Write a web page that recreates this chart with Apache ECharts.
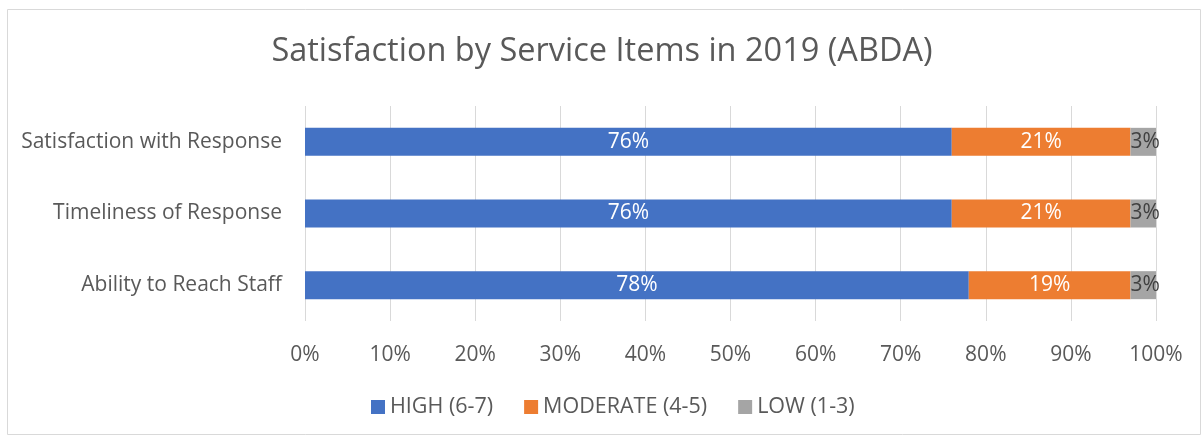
<!DOCTYPE html>
<html><head><meta charset="utf-8">
<script src="https://cdn.jsdelivr.net/npm/echarts@6/dist/echarts.min.js"></script>
<style>html,body{margin:0;padding:0;background:#fff}#c{width:1204px;height:439px}</style>
</head><body><div id="c"></div>
<script>
const categories = ['Satisfaction with Response', 'Timeliness of Response', 'Ability to Reach Staff'];
const seriesNames = ['HIGH (6-7)', 'MODERATE (4-5)', 'LOW (1-3)'];
const highValues = [76, 76, 78];
const moderateValues = [21, 21, 19];
const lowValues = [3, 3, 3];
const xTicks = [0, 10, 20, 30, 40, 50, 60, 70, 80, 90, 100];

const FONT = 'Open Sans';
const colors = ['#4472C4', '#ED7D31', '#A5A5A5'];
const labelColors = ['#ffffff', '#ffffff', '#404040'];
const data = [highValues, moderateValues, lowValues];

const chart = echarts.init(document.getElementById('c'));
chart.setOption({
  animation: false,
  textStyle: { fontFamily: FONT },
  title: {
    text: 'Satisfaction by Service Items in 2019 (ABDA)',
    left: 'center', top: 30,
    textStyle: { fontFamily: FONT, fontSize: 32.5, fontWeight: 'normal', color: '#595959' }
  },
  graphic: [{
    type: 'rect', left: 5, top: 7, silent: true,
    shape: { width: 1193, height: 425 },
    style: { fill: 'none', stroke: '#D9D9D9', lineWidth: 1 }
  }],
  legend: {
    bottom: 16, left: 366,
    itemWidth: 14, itemHeight: 14, itemGap: 31,
    icon: 'rect',
    textStyle: { fontFamily: FONT, fontSize: 21.5, color: '#595959' },
    data: seriesNames
  },
  grid: { left: 305, right: 48, top: 106, bottom: 118, containLabel: false },
  xAxis: {
    type: 'value', min: 0, max: 100, interval: 10,
    axisLine: { show: false }, axisTick: { show: false },
    splitLine: { lineStyle: { color: '#D9D9D9', width: 1 } },
    axisLabel: { formatter: v => v + '%', fontFamily: FONT, fontSize: 21, color: '#595959', margin: 24 }
  },
  yAxis: {
    type: 'category', data: categories, inverse: true,
    axisLine: { show: false }, axisTick: { show: false },
    axisLabel: { fontFamily: FONT, fontSize: 21, color: '#595959', margin: 23, padding: [3, 0, 0, 0] }
  },
  series: seriesNames.map((name, i) => ({
    name, type: 'bar', stack: 'total',
    barWidth: 28,
    data: data[i],
    itemStyle: { color: colors[i] },
    label: {
      show: true, position: i === 2 ? 'insideLeft' : 'inside',
      distance: 0,
      formatter: p => p.value + '%',
      fontFamily: FONT, fontSize: 21, color: labelColors[i]
    }
  }))
});
</script></body></html>
